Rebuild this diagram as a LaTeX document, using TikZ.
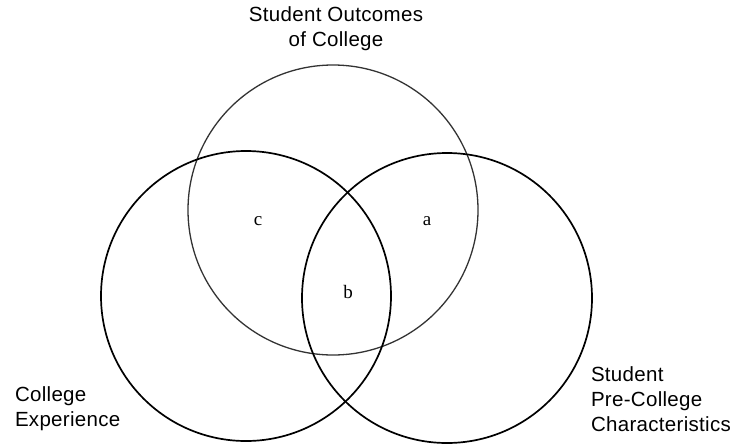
\documentclass[tikz,border=0pt]{standalone}
\usepackage{fontspec}
\setmainfont{Liberation Sans}[LetterSpace=1.5]
\newfontfamily\regionfont{Liberation Serif}
\usetikzlibrary{positioning}

\begin{document}
\begin{tikzpicture}[
  x=1pt, y=-1pt,
  every node/.append style={inner sep=0pt, outer sep=0pt},
  setring/.style={draw=black, circle, line width=1.7pt, minimum size=290pt},
  setname/.style={align=left, font=\fontsize{20.5}{25}\selectfont},
  region/.style={font=\regionfont\fontsize{19}{19}\selectfont},
]
\useasboundingbox (0,0) rectangle (733,445);
% --- the three sets ---
\node[setring, line width=1.3pt, draw=black!80] (outcomes) at (333,210) {};
\node[setring] (experience) at (246,296) {};
\node[setring] (precollege) at (447,298) {};
% set names
\node[setname, align=center] (outcomesname) at (336,29) {Student Outcomes\\of College};
\node[setname, anchor=west] (experiencename) at (15,409) {College\\Experience};
\node[setname, anchor=west] (precollegename) at (591,399) {Student\\Pre-College\\Characteristics};
% --- overlap regions ---
\node[region] (rc) at (258,221) {c};
\node[region] (ra) at (427,221) {a};
\node[region] (rb) at (348,292) {b};
\end{tikzpicture}
\end{document}
